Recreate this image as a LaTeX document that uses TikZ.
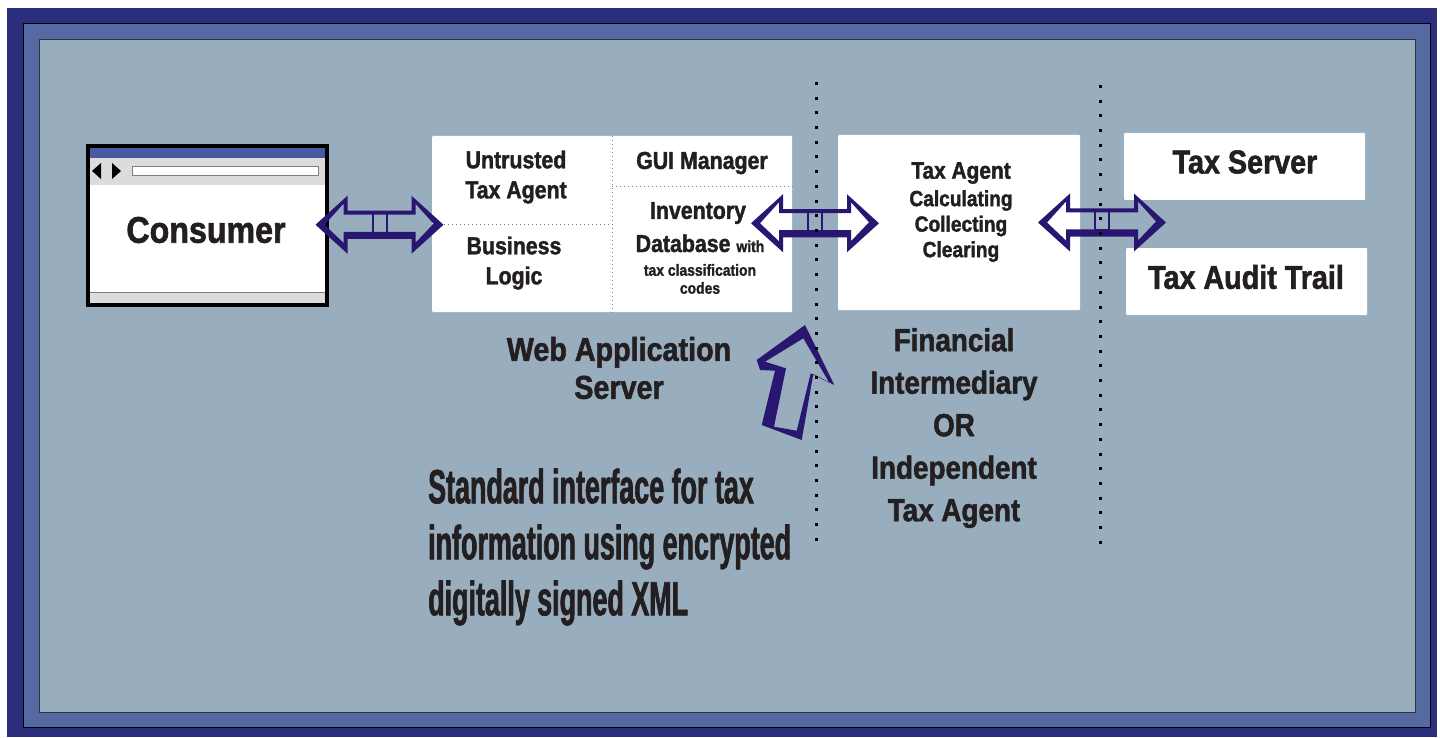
\documentclass[tikz,border=0pt]{standalone}
\usepackage{fontspec}
\setmainfont{Liberation Sans}
\newfontfamily\hf[FakeStretch=0.87, BoldFeatures={FakeBold=1.6}]{Liberation Sans}
\newfontfamily\nf[FakeStretch=0.56, BoldFeatures={FakeBold=1.4}]{Liberation Sans}
\usetikzlibrary{calc}
\definecolor{outerblue}{RGB}{43,45,125}
\definecolor{midblue}{RGB}{85,105,163}
\definecolor{bgblue}{RGB}{152,174,191}
\definecolor{arrnavy}{RGB}{40,22,112}
\definecolor{titleblue}{RGB}{74,90,160}
\definecolor{txt}{RGB}{35,31,32}
\definecolor{bargray}{RGB}{220,220,220}
\tikzset{
  whitebox/.style={fill=white, draw=none, inner sep=0pt, rounded corners=1pt},
  lbl/.style={text=txt, inner sep=0pt, align=center},
  divider/.style={draw=gray, line width=0.8pt, dash pattern=on 1pt off 3pt},
  dotline/.style={draw=black, line width=3pt, dash pattern=on 3pt off 11.7pt},
  dblarrow/.pic={
    \fill[arrnavy,even odd rule]
      (-64,0) -- (-32,-29) -- (-32,-14) -- (32,-14) -- (32,-29) -- (64,0) -- (32,29) -- (32,14) -- (-32,14) -- (-32,29) -- cycle
      (-55,0) -- (-36,-21) -- (-36,-10) -- (36,-10) -- (36,-21) -- (54,-1) -- (36,18) -- (36,7) -- (-36,7) -- (-36,18) -- cycle;
    \draw[arrnavy,line width=2pt] (-7,-12) rectangle (7,8);
  }
}
\begin{document}
\begin{tikzpicture}[x=1pt,y=-1pt]
\useasboundingbox (0,0) rectangle (1440,738);
% frame
\fill[white] (0,0) rectangle (1440,738);
\fill[outerblue] (7,8) rectangle (1437,737);
\filldraw[fill=midblue,draw=black,line width=0.6pt] (23,23) rectangle (1430,727);
\filldraw[fill=bgblue,draw=black!80,line width=0.6pt] (39,39) rectangle (1415,712);

% consumer window
\node[fill=white, inner sep=0pt, minimum width=239pt, minimum height=159pt] (consumer) at (207.5,225.5) {};
\fill[titleblue] (89,147) rectangle (326,158);
\fill[bargray] (89,158) rectangle (326,185);
\filldraw[fill=white,draw=gray,line width=0.6pt] (132,166) rectangle (318,175);
\fill[black] (101,163) -- (101,179) -- (92,171) -- cycle;
\fill[black] (112,163) -- (112,179) -- (121,171) -- cycle;
\fill[bargray] (89,292) rectangle (326,304);
\draw[gray,line width=0.8pt] (89,292) -- (326,292);
\draw[black,line width=4pt] (consumer.north west) rectangle (consumer.south east);
\node[lbl, font=\hf\bfseries\fontsize{37}{40}\selectfont] (consumerlbl) at (206,230) {Consumer};

% web application server box
\node[whitebox, minimum width=360pt, minimum height=176pt] (web) at (612,224) {};
\draw[divider] (web.north) -- (web.south);
\draw[divider] (web.west) -- (web.center);
\coordinate (guidiv) at (612,186);
\draw[divider] (guidiv) -- (guidiv -| web.east);
\node[lbl, font=\hf\bfseries\fontsize{24.5}{30}\selectfont] (untrusted) at (516,177) {Untrusted\\Tax Agent};
\node[lbl, font=\hf\bfseries\fontsize{24.5}{30}\selectfont] (business) at (514,263) {Business\\Logic};
\node[lbl, font=\hf\bfseries\fontsize{24.5}{30}\selectfont] (gui) at (702,163) {GUI Manager};
\node[lbl, font=\hf\bfseries\fontsize{24.5}{30}\selectfont] (inv1) at (698,213) {Inventory};
\node[lbl, font=\hf\bfseries\fontsize{24.5}{30}\selectfont, anchor=base] (inv2) at (700,252) {Database {\fontsize{16}{18}\selectfont with}};
\node[lbl, font=\hf\bfseries\fontsize{16}{18}\selectfont] (inv3) at (700,279) {tax classification\\codes};

% tax agent box
\node[whitebox, minimum width=242pt, minimum height=175pt] (taxagent) at (959,222.5) {};
\node[lbl, font=\hf\bfseries\fontsize{24}{28}\selectfont] (talbl) at (961,173) {Tax Agent};
\node[lbl, font=\hf\bfseries\fontsize{22}{25.5}\selectfont] (tacalc) at (961,226) {Calculating\\Collecting\\Clearing};

% tax server boxes
\node[whitebox, minimum width=241pt, minimum height=67pt] (taxserver) at (1244.5,166.5) {};
\node[whitebox, minimum width=241pt, minimum height=67pt] (audit) at (1246.5,281.5) {};
\node[lbl, font=\hf\bfseries\fontsize{33}{36}\selectfont] (tslbl) at (1245,162) {Tax Server};
\node[lbl, font=\hf\bfseries\fontsize{33}{36}\selectfont] (atlbl) at (1246,277) {Tax Audit Trail};

% labels
\node[lbl, font=\hf\bfseries\fontsize{33}{38}\selectfont] (was) at (619,368) {Web Application\\Server};
\node[lbl, font=\hf\bfseries\fontsize{32}{42.5}\selectfont] (fi) at (954,428) {Financial\\Intermediary\\OR\\Independent\\Tax Agent};
\node[lbl, font=\nf\bfseries\fontsize{48}{56}\selectfont, align=left, anchor=west] (std) at (428,547) {Standard interface for tax\\information using encrypted\\digitally signed XML};

% double arrows
\path ($(consumer.east)!0.5!(web.west)$) pic {dblarrow};
\path ($(web.east)!0.5!(taxagent.west)$) pic {dblarrow};
\path ($(taxagent.east)!0.5!(taxserver.west |- taxagent.west)$) pic {dblarrow};

% up arrow
\fill[arrnavy,even odd rule]
  (805,325) -- (834.3,385) -- (813.3,374) -- (801.7,440) -- (761.7,425) -- (775,370.7) -- (760,370) -- (756.7,360) -- cycle
  (803.3,338.3) -- (829.3,382.7) -- (810.7,373.3) -- (796.7,430.7) -- (774,426.7) -- (786,368.3) -- (765,361.7) -- cycle;

% dotted boundaries
\coordinate (d1t) at (816,82);
\coordinate (d1b) at (816,545);
\coordinate (d2t) at (1100,85);
\coordinate (d2b) at (1100,545);
\draw[dotline] (d1t) -- (d1b);
\draw[dotline] (d2t) -- (d2b);
\end{tikzpicture}
\end{document}
